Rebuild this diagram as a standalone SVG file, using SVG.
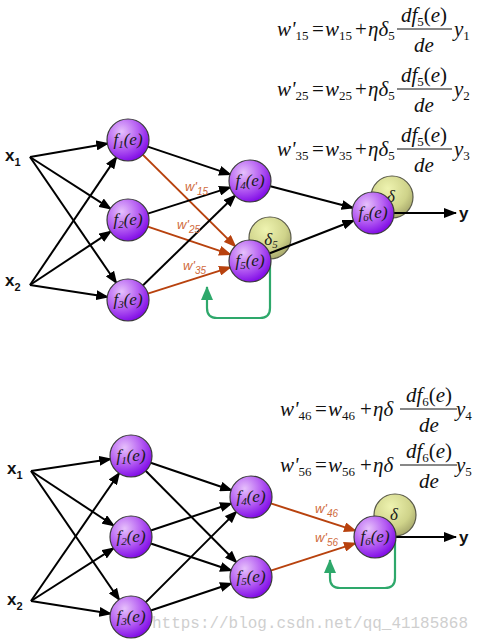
<svg xmlns="http://www.w3.org/2000/svg" width="480" height="643" viewBox="0 0 480 643">
<style>
.bg{fill:#fff}
.ln{fill:none;stroke:#000;stroke-width:2}
.rd{fill:none;stroke:#b8420e;stroke-width:2}
.gr{fill:none;stroke:#2ea86b;stroke-width:2.2}
.nd{fill:url(#pg);stroke:#3a3a3a;stroke-width:1.2}
.dl{fill:url(#yg);stroke:#5a5a48;stroke-width:1.2}
.nt{font-family:"Liberation Serif",serif;font-style:italic;font-size:17px;fill:#1a1a1a;text-anchor:middle}
.ns{font-size:11px}
.io{font-family:"Liberation Sans",Arial,sans-serif;font-weight:bold;font-size:17px;fill:#111}
.ios{font-size:11px}
.wl{font-family:"Liberation Sans",Arial,sans-serif;font-style:italic;font-size:13px;fill:#cf6a3c}
.wls{font-size:10px}
.eq{font-family:"Liberation Serif",serif;font-size:21px;fill:#111}
.i{font-style:italic}
.sb{font-size:13px}
.wm{font-family:"Liberation Mono",monospace;font-size:16px;fill:#cfcfcf}
</style>
<defs>
<radialGradient id="pg" cx="0.35" cy="0.3" r="0.75">
<stop offset="0" stop-color="#e6c0fb"/>
<stop offset="0.55" stop-color="#b45cf2"/>
<stop offset="1" stop-color="#7d06e6"/>
</radialGradient>
<radialGradient id="yg" cx="0.4" cy="0.3" r="0.8">
<stop offset="0" stop-color="#eef3b0"/>
<stop offset="0.6" stop-color="#cfd38a"/>
<stop offset="1" stop-color="#9a9a62"/>
</radialGradient>
<marker id="ab" markerWidth="13" markerHeight="10" refX="12" refY="5" orient="auto" markerUnits="userSpaceOnUse"><path d="M0,0 L13,5 L0,10 z" fill="#000"/></marker>
<marker id="ar" markerWidth="13" markerHeight="10" refX="12" refY="5" orient="auto" markerUnits="userSpaceOnUse"><path d="M0,0 L13,5 L0,10 z" fill="#b8420e"/></marker>
<marker id="ag" markerWidth="14" markerHeight="12" refX="13" refY="6" orient="auto" markerUnits="userSpaceOnUse"><path d="M0,0 L14,6 L0,12 z" fill="#2ea86b"/></marker>
</defs>
<rect class="bg" x="0" y="0" width="480" height="643"/>

<!-- equations top -->
<g id="eq15" class="eq" transform="translate(277,36)">
<text x="0" y="0"><tspan class="i">w'</tspan><tspan class="sb" dy="4">15</tspan><tspan x="35" dy="-4">=</tspan><tspan x="48" class="i">w</tspan><tspan class="sb" dy="4">15</tspan><tspan x="78" dy="-4">+</tspan><tspan x="91" class="i">ηδ</tspan><tspan class="sb" dy="4">5</tspan></text>
<line x1="120" y1="-7" x2="175" y2="-7" stroke="#111" stroke-width="1"/>
<text x="147" y="-14" text-anchor="middle"><tspan class="i">df</tspan><tspan class="sb" dy="4">5</tspan><tspan dy="-4">(</tspan><tspan class="i">e</tspan>)</text>
<text x="147" y="16" text-anchor="middle" class="i">de</text>
<text x="177" y="0"><tspan class="i">y</tspan><tspan class="sb" dy="4">1</tspan></text>
</g>
<g id="eq25" class="eq" transform="translate(277,96)">
<text x="0" y="0"><tspan class="i">w'</tspan><tspan class="sb" dy="4">25</tspan><tspan x="35" dy="-4">=</tspan><tspan x="48" class="i">w</tspan><tspan class="sb" dy="4">25</tspan><tspan x="78" dy="-4">+</tspan><tspan x="91" class="i">ηδ</tspan><tspan class="sb" dy="4">5</tspan></text>
<line x1="120" y1="-7" x2="175" y2="-7" stroke="#111" stroke-width="1"/>
<text x="147" y="-14" text-anchor="middle"><tspan class="i">df</tspan><tspan class="sb" dy="4">5</tspan><tspan dy="-4">(</tspan><tspan class="i">e</tspan>)</text>
<text x="147" y="16" text-anchor="middle" class="i">de</text>
<text x="177" y="0"><tspan class="i">y</tspan><tspan class="sb" dy="4">2</tspan></text>
</g>
<g id="eq35" class="eq" transform="translate(277,156)">
<text x="0" y="0"><tspan class="i">w'</tspan><tspan class="sb" dy="4">35</tspan><tspan x="35" dy="-4">=</tspan><tspan x="48" class="i">w</tspan><tspan class="sb" dy="4">35</tspan><tspan x="78" dy="-4">+</tspan><tspan x="91" class="i">ηδ</tspan><tspan class="sb" dy="4">5</tspan></text>
<line x1="120" y1="-7" x2="175" y2="-7" stroke="#111" stroke-width="1"/>
<text x="147" y="-14" text-anchor="middle"><tspan class="i">df</tspan><tspan class="sb" dy="4">5</tspan><tspan dy="-4">(</tspan><tspan class="i">e</tspan>)</text>
<text x="147" y="16" text-anchor="middle" class="i">de</text>
<text x="177" y="0"><tspan class="i">y</tspan><tspan class="sb" dy="4">3</tspan></text>
</g>
<!-- equations bottom -->
<g id="eq46" class="eq" transform="translate(280,416)">
<text x="0" y="0"><tspan class="i">w'</tspan><tspan class="sb" dy="4">46</tspan><tspan x="35" dy="-4">=</tspan><tspan x="48" class="i">w</tspan><tspan class="sb" dy="4">46</tspan><tspan x="80" dy="-4">+</tspan><tspan x="93" class="i">ηδ</tspan></text>
<line x1="120" y1="-7" x2="177" y2="-7" stroke="#111" stroke-width="1"/>
<text x="149" y="-14" text-anchor="middle"><tspan class="i">df</tspan><tspan class="sb" dy="4">6</tspan><tspan dy="-4">(</tspan><tspan class="i">e</tspan>)</text>
<text x="149" y="16" text-anchor="middle" class="i">de</text>
<text x="176" y="0"><tspan class="i">y</tspan><tspan class="sb" dy="4">4</tspan></text>
</g>
<g id="eq56" class="eq" transform="translate(280,472)">
<text x="0" y="0"><tspan class="i">w'</tspan><tspan class="sb" dy="4">56</tspan><tspan x="35" dy="-4">=</tspan><tspan x="48" class="i">w</tspan><tspan class="sb" dy="4">56</tspan><tspan x="80" dy="-4">+</tspan><tspan x="93" class="i">ηδ</tspan></text>
<line x1="120" y1="-7" x2="177" y2="-7" stroke="#111" stroke-width="1"/>
<text x="149" y="-14" text-anchor="middle"><tspan class="i">df</tspan><tspan class="sb" dy="4">6</tspan><tspan dy="-4">(</tspan><tspan class="i">e</tspan>)</text>
<text x="149" y="16" text-anchor="middle" class="i">de</text>
<text x="176" y="0"><tspan class="i">y</tspan><tspan class="sb" dy="4">5</tspan></text>
</g>

<!-- delta circles -->
<g id="d5top"><circle class="dl" cx="270" cy="238" r="21"/><text class="nt" x="271" y="245" fill="#333">δ<tspan class="ns" dy="3">5</tspan></text></g>
<g id="d6top"><circle class="dl" cx="392" cy="197" r="21"/><text class="nt" x="391" y="202">δ</text></g>
<g id="d6bot"><circle class="dl" cx="395" cy="515" r="21"/><text class="nt" x="394" y="520">δ</text></g>

<!-- connectors -->
<g id="connectors">
<path class="ln" marker-end="url(#ab)" d="M30,157 L108.3,143.4"/>
<path class="ln" marker-end="url(#ab)" d="M30,157 L111.2,209.2"/>
<path class="ln" marker-end="url(#ab)" d="M30,157 L116.7,283.5"/>
<path class="ln" marker-end="url(#ab)" d="M30,285 L116.8,156.6"/>
<path class="ln" marker-end="url(#ab)" d="M30,285 L111.3,231.1"/>
<path class="ln" marker-end="url(#ab)" d="M30,285 L108.2,297"/>
<path class="ln" marker-end="url(#ab)" d="M147,146.4 L231,174.6"/>
<path class="rd" marker-end="url(#ar)" d="M142.2,154.1 L235.8,246.9"/>
<path class="ln" marker-end="url(#ab)" d="M147,213.9 L231,187.1"/>
<path class="rd" marker-end="url(#ar)" d="M147,226.4 L231,254.6"/>
<path class="ln" marker-end="url(#ab)" d="M142.3,286 L235.7,195"/>
<path class="rd" marker-end="url(#ar)" d="M147,293.9 L231,267.1"/>
<path class="ln" marker-end="url(#ab)" d="M269.4,186 L353.6,208"/>
<path class="ln" marker-end="url(#ab)" d="M268.6,253.7 L354.4,220.3"/>
<path class="ln" marker-end="url(#ab)" d="M393,213 L456,213"/>
<path class="gr" marker-end="url(#ag)" d="M270,262 L270,308 Q270,318 260,318 L217,318 Q207,318 207,308 L207,287"/>

<path class="ln" marker-end="url(#ab)" d="M31,471 L111.2,459"/>
<path class="ln" marker-end="url(#ab)" d="M31,471 L114.3,526"/>
<path class="ln" marker-end="url(#ab)" d="M31,471 L119.7,600.5"/>
<path class="ln" marker-end="url(#ab)" d="M31,601 L119.6,472.5"/>
<path class="ln" marker-end="url(#ab)" d="M31,601 L114.2,547.8"/>
<path class="ln" marker-end="url(#ab)" d="M31,601 L111.3,613.8"/>
<path class="ln" marker-end="url(#ab)" d="M149.9,462.5 L232.1,490.5"/>
<path class="ln" marker-end="url(#ab)" d="M145.1,470.2 L236.9,562.8"/>
<path class="ln" marker-end="url(#ab)" d="M150,530.7 L232,503.3"/>
<path class="ln" marker-end="url(#ab)" d="M150,543.3 L232,570.7"/>
<path class="ln" marker-end="url(#ab)" d="M145.1,602.9 L236.9,511.1"/>
<path class="ln" marker-end="url(#ab)" d="M150,610.7 L232,583.3"/>
<path class="rd" marker-end="url(#ar)" d="M270,503.1 L356,530.9"/>
<path class="rd" marker-end="url(#ar)" d="M270,570.9 L356,543.1"/>
<path class="ln" marker-end="url(#ab)" d="M395,537 L456,537"/>
<path class="gr" marker-end="url(#ag)" d="M395,540 L395,578 Q395,588 385,588 L340,588 Q330,588 330,578 L330,560"/>

<text class="wl" x="185" y="191">w'<tspan class="wls" dy="4">15</tspan></text>
<text class="wl" x="177" y="229">w'<tspan class="wls" dy="4">25</tspan></text>
<text class="wl" x="183" y="270">w'<tspan class="wls" dy="4">35</tspan></text>
<text class="wl" x="315" y="513">w'<tspan class="wls" dy="4">46</tspan></text>
<text class="wl" x="315" y="542">w'<tspan class="wls" dy="4">56</tspan></text>
</g>

<!-- inputs / outputs -->
<g id="x1top"><text class="io" x="5" y="161">x<tspan class="ios" dy="5">1</tspan></text></g>
<g id="x2top"><text class="io" x="5" y="286">x<tspan class="ios" dy="5">2</tspan></text></g>
<g id="ytop"><text class="io" x="459" y="219">y</text></g>
<g id="x1bot"><text class="io" x="7" y="474">x<tspan class="ios" dy="5">1</tspan></text></g>
<g id="x2bot"><text class="io" x="7" y="605">x<tspan class="ios" dy="5">2</tspan></text></g>
<g id="ybot"><text class="io" x="459" y="543">y</text></g>

<!-- nodes top -->
<g id="f1top"><circle class="nd" cx="128" cy="140" r="21"/><text class="nt" x="128" y="145">f<tspan class="ns" dy="3">1</tspan><tspan dy="-3">(e)</tspan></text></g>
<g id="f2top"><circle class="nd" cx="128" cy="220" r="21"/><text class="nt" x="128" y="225">f<tspan class="ns" dy="3">2</tspan><tspan dy="-3">(e)</tspan></text></g>
<g id="f3top"><circle class="nd" cx="128" cy="300" r="21"/><text class="nt" x="128" y="305">f<tspan class="ns" dy="3">3</tspan><tspan dy="-3">(e)</tspan></text></g>
<g id="f4top"><circle class="nd" cx="250" cy="181" r="21"/><text class="nt" x="250" y="186">f<tspan class="ns" dy="3">4</tspan><tspan dy="-3">(e)</tspan></text></g>
<g id="f5top"><circle class="nd" cx="250" cy="261" r="21"/><text class="nt" x="250" y="266">f<tspan class="ns" dy="3">5</tspan><tspan dy="-3">(e)</tspan></text></g>
<g id="f6top"><circle class="nd" cx="373" cy="213" r="21"/><text class="nt" x="373" y="218">f<tspan class="ns" dy="3">6</tspan><tspan dy="-3">(e)</tspan></text></g>
<!-- nodes bottom -->
<g id="f1bot"><circle class="nd" cx="131" cy="456" r="21"/><text class="nt" x="131" y="461">f<tspan class="ns" dy="3">1</tspan><tspan dy="-3">(e)</tspan></text></g>
<g id="f2bot"><circle class="nd" cx="131" cy="537" r="21"/><text class="nt" x="131" y="542">f<tspan class="ns" dy="3">2</tspan><tspan dy="-3">(e)</tspan></text></g>
<g id="f3bot"><circle class="nd" cx="131" cy="617" r="21"/><text class="nt" x="131" y="622">f<tspan class="ns" dy="3">3</tspan><tspan dy="-3">(e)</tspan></text></g>
<g id="f4bot"><circle class="nd" cx="251" cy="497" r="21"/><text class="nt" x="251" y="502">f<tspan class="ns" dy="3">4</tspan><tspan dy="-3">(e)</tspan></text></g>
<g id="f5bot"><circle class="nd" cx="251" cy="577" r="21"/><text class="nt" x="251" y="582">f<tspan class="ns" dy="3">5</tspan><tspan dy="-3">(e)</tspan></text></g>
<g id="f6bot"><circle class="nd" cx="375" cy="537" r="21"/><text class="nt" x="375" y="542">f<tspan class="ns" dy="3">6</tspan><tspan dy="-3">(e)</tspan></text></g>

<text class="wm" x="152" y="628" textLength="316" lengthAdjust="spacingAndGlyphs">https://blog.csdn.net/qq_41185868</text>
</svg>
